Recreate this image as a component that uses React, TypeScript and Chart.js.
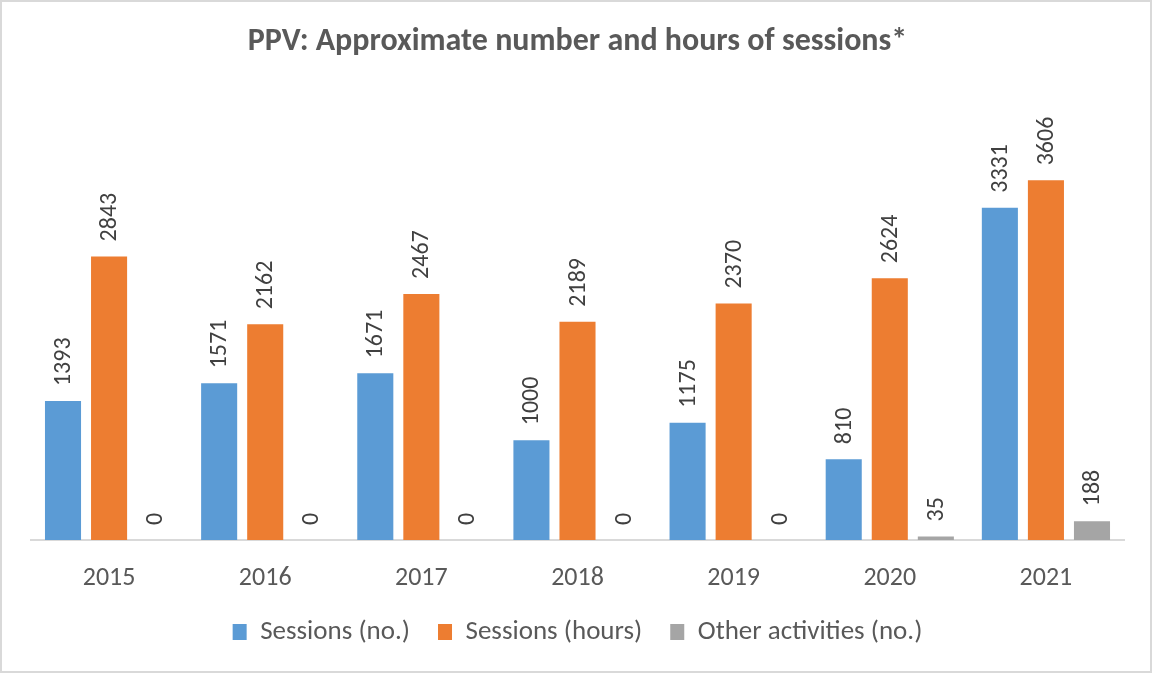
import React, { useEffect, useRef } from "react";
import { Chart, registerables } from "chart.js";

Chart.register(...registerables);

const years = ["2015", "2016", "2017", "2018", "2019", "2020", "2021"];
const sessionsNo = [1393, 1571, 1671, 1000, 1175, 810, 3331];
const sessionsHours = [2843, 2162, 2467, 2189, 2370, 2624, 3606];
const otherActivities = [0, 0, 0, 0, 0, 35, 188];

const FONT = "Carlito, Calibri, Lato, sans-serif";

const bgPlugin = {
  id: "bgBorder",
  beforeDraw(chart: any) {
    const ctx = chart.ctx;
    ctx.save();
    ctx.fillStyle = "#FFFFFF";
    ctx.fillRect(0, 0, chart.width, chart.height);
    ctx.strokeStyle = "#D9D9D9";
    ctx.lineWidth = 2;
    ctx.strokeRect(1, 1, chart.width - 2, chart.height - 2);
    ctx.restore();
  },
};

const labelPlugin = {
  id: "rotLabels",
  afterDatasetsDraw(chart: any) {
    const ctx = chart.ctx;
    ctx.save();
    ctx.font = `24px ${FONT}`;
    ctx.fillStyle = "#404040";
    ctx.textAlign = "left";
    ctx.textBaseline = "middle";
    chart.data.datasets.forEach((ds: any, i: number) => {
      const meta = chart.getDatasetMeta(i);
      meta.data.forEach((bar: any, j: number) => {
        const v = ds.data[j];
        ctx.save();
        ctx.translate(bar.x + 1, bar.y - 15);
        ctx.rotate(-Math.PI / 2);
        ctx.fillText(String(v), 0, 0);
        ctx.restore();
      });
    });
    ctx.restore();
  },
};

export default function App() {
  const ref = useRef<HTMLCanvasElement>(null);
  useEffect(() => {
    document.body.style.margin = "0";
    const chart = new Chart(ref.current!, {
      type: "bar",
      data: {
        labels: years,
        datasets: [
          { label: "Sessions (no.)", data: sessionsNo, backgroundColor: "#5B9BD5" },
          { label: "Sessions (hours)", data: sessionsHours, backgroundColor: "#ED7D31" },
          { label: "Other activities (no.)", data: otherActivities, backgroundColor: "#A5A5A5" },
        ],
      },
      options: {
        responsive: false,
        animation: false,
        categoryPercentage: 0.885,
        barPercentage: 0.783,
        layout: { padding: { left: 31, right: 28, top: 0, bottom: 17.5 } },
        plugins: {
          title: {
            display: true,
            text: "PPV: Approximate number and hours of sessions*",
            color: "#595959",
            font: { family: FONT, size: 32, weight: "bold" },
            padding: { top: 23, bottom: 79.6 },
          },
          legend: {
            position: "bottom",
            labels: {
              color: "#595959",
              font: { family: FONT, size: 27, lineHeight: 1 },
              boxWidth: 14,
              boxHeight: 16,
              padding: 28,
            },
          },
          tooltip: { enabled: false },
        },
        scales: {
          x: {
            grid: { display: false, drawTicks: false },
            border: { color: "#D9D9D9", width: 2 },
            ticks: { color: "#595959", font: { family: FONT, size: 26, lineHeight: 1 }, padding: 25 },
            afterFit: (scale: any) => {
              scale.height = 50.5;
            },
          },
          y: {
            display: false,
            min: 0,
            max: 4000,
          },
        },
      },
      plugins: [bgPlugin, labelPlugin],
    });
    return () => chart.destroy();
  }, []);
  return (
    <div style={{ width: 1152, height: 673 }}>
      <canvas ref={ref} width={1152} height={673} style={{ display: "block" }} />
    </div>
  );
}
